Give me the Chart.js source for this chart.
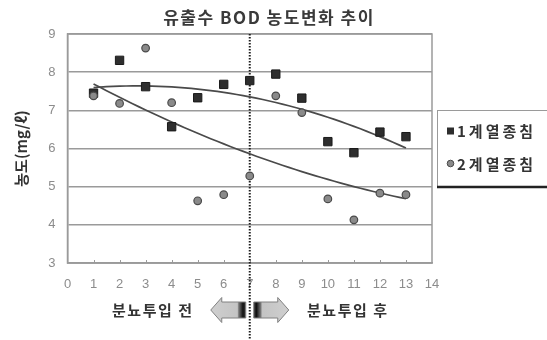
<!DOCTYPE html>
<html>
<head>
<meta charset="utf-8">
<script src="https://cdn.jsdelivr.net/npm/chart.js@4.4.0/dist/chart.umd.min.js"></script>
<style>
  html, body { margin: 0; padding: 0; background: #fff; }
  #wrap { width: 547px; height: 340px; position: relative; }
</style>
</head>
<body>
<div id="wrap"><canvas id="c" width="547" height="340"></canvas></div>
<script>
// ---- data ----
const chartTitle = '유출수 BOD 농도변화 추이';
const yAxisTitle = '농도(mg/ℓ)';
const seriesNames = ['1계열종침', '2계열종침'];
const days = [1, 2, 3, 4, 5, 6, 7, 8, 9, 10, 11, 12, 13];
const line1Bod = [7.45, 8.31, 7.62, 6.57, 7.33, 7.68, 7.78, 7.95, 7.32, 6.18, 5.89, 6.43, 6.31];
const line2Bod = [7.38, 7.18, 8.63, 7.20, 4.63, 4.79, 5.28, 7.38, 6.94, 4.68, 4.13, 4.83, 4.79];
const xTickValues = [0, 1, 2, 3, 4, 5, 6, 7, 8, 9, 10, 11, 12, 13, 14];
const yTickValues = [3, 4, 5, 6, 7, 8, 9];
const inputStartDay = 7;
const beforeText = '분뇨투입 전';
const afterText = '분뇨투입 후';

// second-order least-squares trend line
function quadFit(xs, ys) {
  let s = [0, 0, 0, 0, 0], t = [0, 0, 0];
  xs.forEach((x, i) => {
    for (let k = 0; k < 5; k++) s[k] += Math.pow(x, k);
    for (let k = 0; k < 3; k++) t[k] += Math.pow(x, k) * ys[i];
  });
  const A = [[s[0], s[1], s[2], t[0]], [s[1], s[2], s[3], t[1]], [s[2], s[3], s[4], t[2]]];
  for (let i = 0; i < 3; i++) {
    for (let j = i + 1; j < 3; j++) {
      const f = A[j][i] / A[i][i];
      for (let k = i; k < 4; k++) A[j][k] -= f * A[i][k];
    }
  }
  const c = [0, 0, 0];
  for (let i = 2; i >= 0; i--) {
    let v = A[i][3];
    for (let k = i + 1; k < 3; k++) v -= A[i][k] * c[k];
    c[i] = v / A[i][i];
  }
  return x => c[0] + c[1] * x + c[2] * x * x;
}
function trendPoints(xs, ys) {
  const f = quadFit(xs, ys);
  const pts = [];
  const x0 = xs[0], x1 = xs[xs.length - 1];
  for (let x = x0; x <= x1 + 1e-9; x += 0.25) pts.push({ x: x, y: f(x) });
  return pts;
}
const toPoints = ys => days.map((d, i) => ({ x: d, y: ys[i] }));

const FONT_KR = '"Noto Sans CJK KR", "Noto Sans", sans-serif';
const FONT_NUM = '"Liberation Sans", Arial, sans-serif';

const decorations = {
  id: 'decorations',
  beforeDatasetsDraw(chart) {
    const { ctx, chartArea: a, scales: { x } } = chart;
    ctx.save();
    // plot frame
    ctx.strokeStyle = '#9a9a9a';
    ctx.lineWidth = 1.5;
    ctx.strokeRect(a.left, a.top, a.right - a.left, a.bottom - a.top);
    // small inner tick marks on the x axis
    ctx.strokeStyle = '#9a9a9a';
    ctx.lineWidth = 1;
    xTickValues.forEach(v => {
      if (v === 0 || v === 14) return;
      const px = Math.round(x.getPixelForValue(v)) + 0.5;
      ctx.beginPath();
      ctx.moveTo(px, a.bottom);
      ctx.lineTo(px, a.bottom - 3);
      ctx.stroke();
    });
    // dotted divider at the start of input
    const dx = x.getPixelForValue(inputStartDay);
    ctx.strokeStyle = '#1e1e1e';
    ctx.lineWidth = 2;
    ctx.setLineDash([1.5, 1.5]);
    ctx.beginPath();
    ctx.moveTo(dx, a.top);
    ctx.lineTo(dx, 339);
    ctx.stroke();
    ctx.restore();
  },
  afterDraw(chart) {
    const { ctx, scales: { x } } = chart;
    ctx.save();
    // title
    ctx.fillStyle = '#3a3a3a';
    ctx.font = 'bold 17px ' + FONT_KR;
    ctx.textAlign = 'center';
    ctx.textBaseline = 'middle';
    ctx.letterSpacing = '1.5px';
    ctx.fillText(chartTitle, 269, 18);

    // legend
    ctx.fillStyle = '#ffffff';
    ctx.fillRect(437, 110, 115, 77);
    ctx.strokeStyle = '#9a9a9a';
    ctx.lineWidth = 1;
    ctx.strokeRect(437.5, 110.5, 120, 76);
    ctx.strokeStyle = '#222';
    ctx.lineWidth = 2.5;
    ctx.beginPath();
    ctx.moveTo(437, 187);
    ctx.lineTo(547, 187);
    ctx.stroke();
    ctx.fillStyle = '#2e2e2e';
    ctx.fillRect(447, 127.5, 7, 7);
    ctx.beginPath();
    ctx.arc(450.5, 163.5, 3.3, 0, Math.PI * 2);
    ctx.fillStyle = '#8a8a8a';
    ctx.fill();
    ctx.strokeStyle = '#4a4a4a';
    ctx.lineWidth = 1;
    ctx.stroke();
    ctx.fillStyle = '#333';
    ctx.font = 'bold 15px ' + FONT_KR;
    ctx.textAlign = 'left';
    ctx.letterSpacing = '3px';
    ctx.fillText(seriesNames[0], 457, 131);
    ctx.fillText(seriesNames[1], 457, 164);

    // arrows either side of the divider
    const cx = x.getPixelForValue(inputStartDay);
    const cy = 310;
    [-1, 1].forEach(dir => {
      const inner = cx + dir * 4;
      const bodyEnd = cx + dir * 28;
      const tip = cx + dir * 39;
      ctx.beginPath();
      ctx.moveTo(inner, cy - 8);
      ctx.lineTo(bodyEnd, cy - 8);
      ctx.lineTo(bodyEnd, cy - 12.5);
      ctx.lineTo(tip, cy);
      ctx.lineTo(bodyEnd, cy + 12.5);
      ctx.lineTo(bodyEnd, cy + 8);
      ctx.lineTo(inner, cy + 8);
      ctx.closePath();
      const g = ctx.createLinearGradient(inner, 0, tip, 0);
      g.addColorStop(0, '#3a3a3a');
      g.addColorStop(0.08, '#111');
      g.addColorStop(0.2, '#777');
      g.addColorStop(0.24, '#c4c4c4');
      g.addColorStop(1, '#cfcfcf');
      ctx.fillStyle = g;
      ctx.fill();
      ctx.strokeStyle = '#808080';
      ctx.lineWidth = 1;
      ctx.stroke();
    });
    // before / after captions
    ctx.fillStyle = '#333';
    ctx.font = 'bold 15px ' + FONT_KR;
    ctx.textAlign = 'center';
    ctx.letterSpacing = '1.5px';
    ctx.fillText(beforeText, cx - 97, cy);
    ctx.fillText(afterText, cx + 98, cy);
    ctx.restore();
  }
};

new Chart(document.getElementById('c'), {
  type: 'scatter',
  data: {
    datasets: [
      {
        label: seriesNames[1], data: toPoints(line2Bod), order: 0,
        pointStyle: 'circle', pointRadius: 3.8, pointBackgroundColor: '#8a8a8a',
        pointBorderColor: '#4a4a4a', pointBorderWidth: 1.2, showLine: false
      },
      {
        label: seriesNames[0], data: toPoints(line1Bod), order: 1,
        pointStyle: 'rect', pointRadius: 5.9, pointBackgroundColor: '#2e2e2e',
        pointBorderColor: '#1a1a1a', pointBorderWidth: 1, showLine: false
      },
      {
        label: seriesNames[0] + ' 추세', data: trendPoints(days, line1Bod), order: 2,
        showLine: true, pointRadius: 0, borderColor: '#4a4a4a', borderWidth: 1.7, tension: 0
      },
      {
        label: seriesNames[1] + ' 추세', data: trendPoints(days, line2Bod), order: 2,
        showLine: true, pointRadius: 0, borderColor: '#4a4a4a', borderWidth: 1.7, tension: 0
      }
    ]
  },
  options: {
    responsive: false,
    animation: false,
    events: [],
    layout: { padding: { top: 34, right: 115, bottom: 0, left: 0 } },
    plugins: { legend: { display: false }, tooltip: { enabled: false }, title: { display: false } },
    scales: {
      x: {
        type: 'linear', min: 0, max: 14,
        afterFit: s => { s.height = 77; },
        afterBuildTicks: s => { s.ticks = xTickValues.map(v => ({ value: v })); },
        ticks: { autoSkip: false, maxRotation: 0, color: '#8c8c8c', font: { family: FONT_NUM, size: 13 }, padding: 14 },
        grid: { display: false, drawTicks: false },
        border: { display: true, color: '#9a9a9a', width: 1.5 }
      },
      y: {
        min: 3, max: 9,
        afterFit: s => { s.width = 67.5; },
        afterBuildTicks: s => { s.ticks = yTickValues.map(v => ({ value: v })); },
        ticks: { color: '#8c8c8c', font: { family: FONT_NUM, size: 13 }, padding: 12 },
        grid: { color: '#9a9a9a', lineWidth: 1.5, drawTicks: false },
        border: { display: true, color: '#9a9a9a', width: 1.5 },
        title: {
          display: true, text: yAxisTitle, color: '#333',
          font: { family: FONT_KR, size: 15, weight: 'bold' }, padding: { top: 12, bottom: 0 }
        }
      }
    }
  },
  plugins: [decorations]
});
</script>
</body>
</html>
